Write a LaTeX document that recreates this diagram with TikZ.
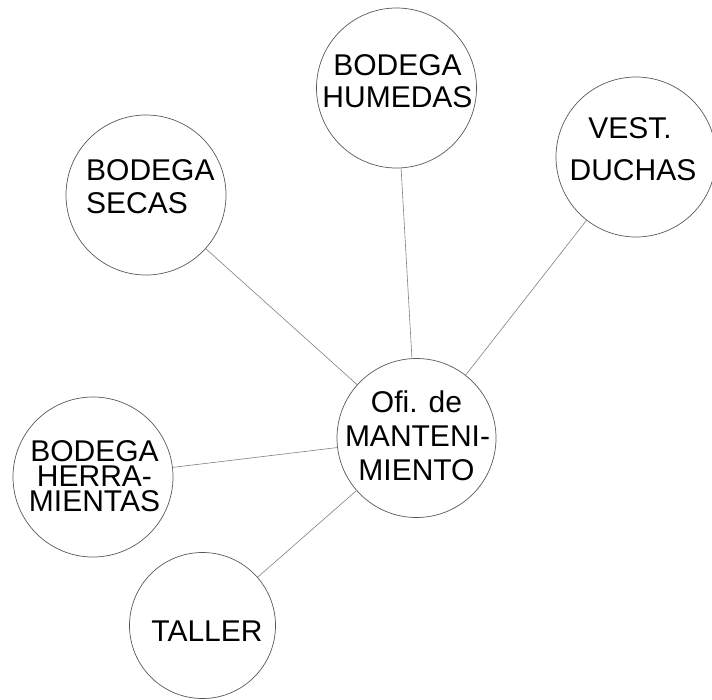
\documentclass[tikz,border=0pt]{standalone}
\usepackage{fontspec}
\setmainfont{Liberation Sans}
\begin{document}
\begin{tikzpicture}[x=1pt,y=-1pt,
  circ/.style={circle,draw=black!65,line width=0.7pt,fill=white,inner sep=0pt},
  link/.style={draw=black!50,line width=0.6pt},
  txt/.style={anchor=base,inner sep=0pt,font=\fontsize{30}{32}\selectfont},
  txtl/.style={anchor=base west,inner sep=0pt,font=\fontsize{30}{32}\selectfont},
  txtm/.style={anchor=center,inner sep=0pt,align=center,font=\fontsize{30}{25}\selectfont}]
\useasboundingbox (0,0) rectangle (712,699);
% circles
\node[circ,minimum size=160pt] (hum) at (396.5,88) {};
\node[circ,minimum size=160pt] (vest) at (636,157) {};
\node[circ,minimum size=160pt] (sec) at (146,195) {};
\node[circ,minimum size=159pt] (ofi) at (416.5,438) {};
\node[circ,minimum size=160pt] (her) at (93,477) {};
\node[circ,minimum size=146pt] (tal) at (202.5,625.5) {};
% connectors
\draw[link] (hum) -- (ofi);
\draw[link] (vest) -- (ofi);
\draw[link] (sec) -- (ofi);
\draw[link] (her) -- (ofi);
\draw[link] (tal) -- (ofi);
% texts
\node[txt] (hum1) at (397.5,75) {BODEGA};
\node[txt] (hum2) at (397.5,107) {HUMEDAS};
\node[txt] (vest1) at (630,138) {VEST.};
\node[txt] (vest2) at (633,180) {DUCHAS};
\node[txtl] (sec1) at (86,180) {BODEGA};
\node[txtl] (sec2) at (86,213) {SECAS};
\node[txt] (ofi1) at (416.5,412) {Ofi. de};
\node[txt] (ofi2) at (417.5,446) {MANTENI-};
\node[txt] (ofi3) at (416.5,480) {MIENTO};
\node[txtm] (hert) at (94.5,476) {BODEGA\\HERRA-\\MIENTAS};
\node[txt] (tal1) at (207,641) {TALLER};
\end{tikzpicture}
\end{document}
